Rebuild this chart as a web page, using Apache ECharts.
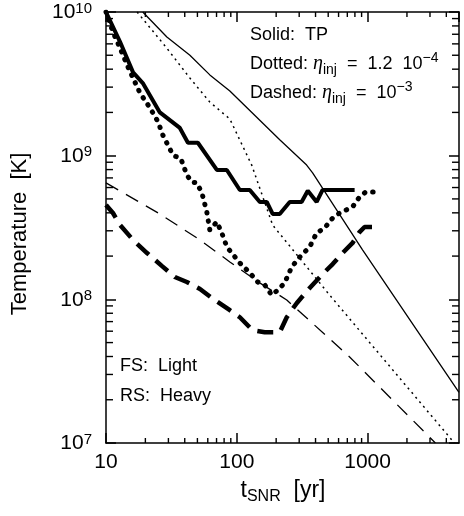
<!DOCTYPE html>
<html>
<head>
<meta charset="utf-8">
<script src="https://cdn.jsdelivr.net/npm/echarts@6/dist/echarts.min.js"></script>
<style>
html,body{margin:0;padding:0;background:#fff;}
#chart{width:464px;height:516px;}
</style>
</head>
<body>
<div id="chart"></div>
<script>
// axis ranges and tick labels
var xRange = [10, 5000];
var yRange = [1e7, 1e10];
var xLabels = [10, 100, 1000];
var yExponents = [7, 8, 9, 10];

// [t_SNR (yr), T (K)]
// thin lines = forward shock (light), thick lines = reverse shock (heavy)
var tpLight = [[19.1,1e10],[29.2,6.7e9],[43.8,5.0e9],[62.2,3.65e9],[88.5,2.82e9],[213,1.29e9],[342,8.6e8],[380,7.6e8],[915,2.21e8],[5000,2.25e7]];
var dotLight = [[17.3,1e10],[29.2,5.6e9],[43.8,3.47e9],[62.2,2.36e9],[88.5,1.8e9],[130,8.6e8],[188,3.29e8],[513,1.07e8],[4610,1.0e7]];
var dashLight = [[10,6.46e8],[25.8,3.93e8],[52.3,2.59e8],[88.5,1.82e8],[150,1.30e8],[241,9.9e7],[729,3.97e7],[3300,1.0e7]];

var tpHeavy = [[10,1e10],[12.8,6.2e9],[16.1,3.8e9],[19.1,3.2e9],[25.8,2.0e9],[36.7,1.56e9],[42.3,1.23e9],[50.4,1.23e9],[70.4,7.95e8],[83.9,7.95e8],[105.5,5.77e8],[125.7,5.77e8],[150,4.76e8],[169.5,4.76e8],[188,3.93e8],[213,3.93e8],[254,4.76e8],[313,4.76e8],[349,5.7e8],[408,4.76e8],[453,5.77e8],[796,5.77e8]];
var dotHeavy = [[10,1e10],[11.3,7.26e9],[12.8,5.61e9],[14.5,4.27e9],[16.1,3.47e9],[18.2,2.73e9],[21.7,2.15e9],[25.0,1.72e9],[27.2,1.39e9],[32.5,1.01e9],[37.4,9.5e8],[41.5,7.34e8],[45.3,6.56e8],[49.5,6.46e8],[54.1,5.5e8],[59.0,4.05e8],[62.2,3.04e8],[70.4,3.46e8],[76.8,2.9e8],[83.9,2.32e8],[91.6,2.1e8],[105.5,1.79e8],[125.7,1.53e8],[144.6,1.32e8],[163.6,1.26e8],[184.9,1.07e8],[205.6,1.16e8],[232,1.30e8],[263,1.68e8],[303,1.97e8],[361,2.32e8],[408,2.9e8],[470,3.14e8],[541,3.68e8],[611,3.99e8],[768,4.4e8],[868,5.16e8],[966,5.58e8],[1130,5.58e8]];
var dashHeavy = [[10,4.54e8],[11.3,3.99e8],[12.8,3.29e8],[16.1,2.59e8],[20.6,2.10e8],[26.7,1.71e8],[33.6,1.43e8],[41.5,1.32e8],[52.3,1.18e8],[65.6,1.01e8],[88.5,8.4e7],[105.5,7.5e7],[132,6.1e7],[163.6,5.9e7],[213,5.9e7],[241,7.5e7],[287,9.4e7],[361,1.2e8],[453,1.5e8],[541,1.76e8],[644,2.1e8],[768,2.47e8],[868,2.94e8],[948,3.19e8],[1191,3.19e8]];

var FONT = 'Liberation Sans';

// minor tick values 2..9 x decade
function minorVals(lo, hi){
	var out = [];
	for(var d = lo; d < hi; d *= 10){
		for(var k = 2; k <= 9; k++){
			if(k*d < hi) out.push(k*d);
		}
	}
	return out;
}
var xMinor = minorVals(xRange[0], xRange[1]);
var yMinor = minorVals(yRange[0], yRange[1]);

function line(data, width, type, cap){
	return {
		type:'line', data:data, showSymbol:false, symbol:'none', silent:true,
		lineStyle:{color:'#000', width:width, type:type, cap:cap || 'butt'},
		z:3
	};
}

var axisCommon = {
	type:'log', logBase:10,
	axisLine:{show:true, lineStyle:{color:'#000', width:1.5}},
	axisTick:{show:true, inside:true, length:10, lineStyle:{color:'#000', width:1.5}},
	splitLine:{show:false}
};

var option = {
	animation:false,
	backgroundColor:'#fff',
	grid:{left:106, right:5, top:12, bottom:73, outerBoundsMode:'none'}
};

option.xAxis = [
	Object.assign({}, axisCommon, {
		position:'bottom', min:xRange[0], max:xRange[1],
		axisLabel:{
			show:true, color:'#000', fontFamily:FONT, fontSize:21, margin:9,
			showMaxLabel:false,
			formatter:function(v){ return xLabels.indexOf(Math.round(v)) >= 0 ? String(Math.round(v)) : ''; }
		}
	}),
	Object.assign({}, axisCommon, {
		position:'top', min:xRange[0], max:xRange[1], axisLabel:{show:false}
	})
];
option.yAxis = [
	Object.assign({}, axisCommon, {
		position:'left', min:yRange[0], max:yRange[1],
		axisLabel:{
			show:true, color:'#000', margin:14,
			formatter:function(v){
				var e = Math.round(Math.log10(v));
				return yExponents.indexOf(e) >= 0 ? '{b|10}{s|' + e + '}' : '';
			},
			rich:{
				b:{fontFamily:FONT, fontSize:21, lineHeight:22, verticalAlign:'bottom', padding:[6,0,0,0]},
				s:{fontFamily:FONT, fontSize:15, lineHeight:15, verticalAlign:'top'}
			}
		}
	}),
	Object.assign({}, axisCommon, {
		position:'right', min:yRange[0], max:yRange[1], axisLabel:{show:false}
	})
];

// minor ticks on all four sides
var tickStyle = {stroke:'#000', lineWidth:1.4};
option.series = [
	line(tpLight, 1.3, 'solid'),
	line(dotLight, 1.5, [2,4]),
	line(dashLight, 1.3, [14,9]),
	line(tpHeavy, 4, 'solid'),
	line(dotHeavy, 5, [0.5,8], 'round'),
	line(dashHeavy, 4.5, [16,9]),
	{
		type:'custom', silent:true, z:5,
		data:xMinor.map(function(v){ return [v, yRange[0]]; }),
		renderItem:function(params, api){
			var cs = params.coordSys;
			var x = api.coord([api.value(0), yRange[0]])[0];
			return {type:'group', children:[
				{type:'line', shape:{x1:x, y1:cs.y+cs.height, x2:x, y2:cs.y+cs.height-5}, style:tickStyle},
				{type:'line', shape:{x1:x, y1:cs.y, x2:x, y2:cs.y+5}, style:tickStyle}
			]};
		}
	},
	{
		type:'custom', silent:true, z:5,
		data:yMinor.map(function(v){ return [xRange[0], v]; }),
		renderItem:function(params, api){
			var cs = params.coordSys;
			var y = api.coord([xRange[0], api.value(1)])[1];
			return {type:'group', children:[
				{type:'line', shape:{x1:cs.x, y1:y, x2:cs.x+7, y2:y}, style:tickStyle},
				{type:'line', shape:{x1:cs.x+cs.width, y1:y, x2:cs.x+cs.width-7, y2:y}, style:tickStyle}
			]};
		}
	}
];

var annRich = {
	n:{fontFamily:FONT, fontSize:18, lineHeight:26, verticalAlign:'middle'},
	i:{fontFamily:'Liberation Serif', fontStyle:'italic', fontSize:20, lineHeight:26, verticalAlign:'middle'},
	sub:{fontFamily:FONT, fontSize:14, lineHeight:14, verticalAlign:'bottom'},
	sup:{fontFamily:FONT, fontSize:14, lineHeight:14, verticalAlign:'top'}
};
function txt(x, y, text){
	return {
		type:'text', x:x, y:y, silent:true, z:10,
		style:{text:text, fill:'#000', fontFamily:FONT, fontSize:18, align:'left', verticalAlign:'middle', rich:annRich}
	};
}

option.graphic = [
	txt(250, 35, '{n|Solid:  TP}'),
	txt(250, 64, '{n|Dotted: }{i|η}{sub|inj}{n|  =  1.2  10}{sup|−4}'),
	txt(250, 93, '{n|Dashed: }{i|η}{sub|inj}{n|  =  10}{sup|−3}'),
	txt(120, 366, '{n|FS:  Light}'),
	txt(120, 396, '{n|RS:  Heavy}'),
	{
		type:'text', x:20, y:234, rotation:Math.PI/2, silent:true,
		style:{text:'Temperature  [K]', fill:'#000', fontFamily:FONT, fontSize:22, align:'center', verticalAlign:'middle'}
	},
	{
		type:'text', x:283, y:492, silent:true,
		style:{
			text:'{b|t}{s|SNR}{b|  [yr]}', fill:'#000', align:'center', verticalAlign:'middle',
			rich:{
				b:{fontFamily:FONT, fontSize:23, lineHeight:25, verticalAlign:'top'},
				s:{fontFamily:FONT, fontSize:16, lineHeight:17, verticalAlign:'bottom', padding:[14,0,0,0]}
			}
		}
	}
];

var myChart = echarts.init(document.getElementById('chart'), null, {renderer:'canvas'});
myChart.setOption(option);
</script>
</body>
</html>
